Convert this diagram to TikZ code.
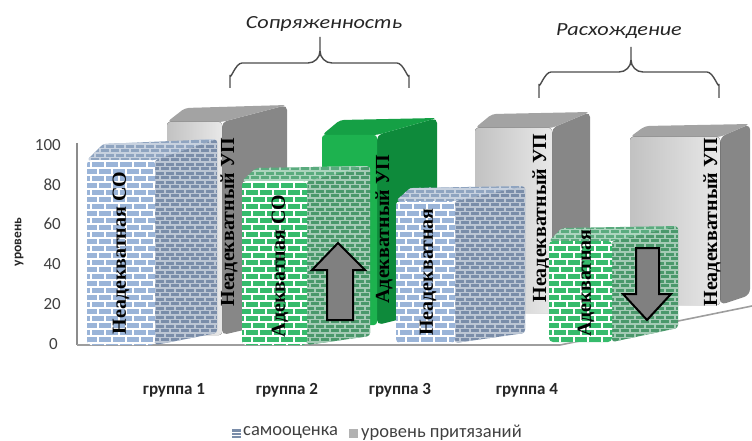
\documentclass[tikz,border=0pt]{standalone}
\usepackage{fontspec}
\setmainfont{Carlito}
\newfontfamily\serifb{Liberation Serif}
\usetikzlibrary{patterns}
\pgfdeclarepatternformonly{mybricks}{\pgfqpoint{-2pt}{-2pt}}{\pgfqpoint{16pt}{16pt}}{\pgfqpoint{14pt}{14pt}}{%
 \pgfsetlinewidth{2.6pt}%
 \pgfpathmoveto{\pgfqpoint{-1pt}{0pt}}\pgfpathlineto{\pgfqpoint{15pt}{0pt}}%
 \pgfpathmoveto{\pgfqpoint{-1pt}{7pt}}\pgfpathlineto{\pgfqpoint{15pt}{7pt}}%
 \pgfpathmoveto{\pgfqpoint{0pt}{0pt}}\pgfpathlineto{\pgfqpoint{0pt}{7pt}}%
 \pgfpathmoveto{\pgfqpoint{14pt}{0pt}}\pgfpathlineto{\pgfqpoint{14pt}{7pt}}%
 \pgfpathmoveto{\pgfqpoint{7pt}{7pt}}\pgfpathlineto{\pgfqpoint{7pt}{14pt}}%
 \pgfusepath{stroke}}
\pgfdeclarepatternformonly{smallbricks}{\pgfqpoint{-2pt}{-2pt}}{\pgfqpoint{12pt}{11pt}}{\pgfqpoint{10pt}{9pt}}{%
 \pgfsetlinewidth{1.5pt}%
 \pgfpathmoveto{\pgfqpoint{-1pt}{0pt}}\pgfpathlineto{\pgfqpoint{11pt}{0pt}}%
 \pgfpathmoveto{\pgfqpoint{-1pt}{4.5pt}}\pgfpathlineto{\pgfqpoint{11pt}{4.5pt}}%
 \pgfpathmoveto{\pgfqpoint{0pt}{0pt}}\pgfpathlineto{\pgfqpoint{0pt}{4.5pt}}%
 \pgfpathmoveto{\pgfqpoint{10pt}{0pt}}\pgfpathlineto{\pgfqpoint{10pt}{4.5pt}}%
 \pgfpathmoveto{\pgfqpoint{5pt}{4.5pt}}\pgfpathlineto{\pgfqpoint{5pt}{9pt}}%
 \pgfusepath{stroke}}
\definecolor{bF}{HTML}{9AB4D8}
\definecolor{bS}{HTML}{7A8DA9}
\definecolor{bT}{HTML}{8FA4C0}
\definecolor{gF}{HTML}{36BB6C}
\definecolor{gS}{HTML}{4A986B}
\definecolor{gT}{HTML}{5AAB7E}
\definecolor{sF}{HTML}{1DB24F}
\definecolor{sS}{HTML}{0E8A3B}
\definecolor{sT}{HTML}{15A045}
\begin{document}
\begin{tikzpicture}[x=1pt,y=-1pt,
  lbl/.style={rotate=90, font=\serifb\bfseries\fontsize{20}{20}\selectfont, inner sep=0pt},
  tick/.style={anchor=east, font=\fontsize{17}{17}\selectfont, text=black!75, inner sep=0pt},
  grp/.style={font=\bfseries\fontsize{17}{17}\selectfont, text=black!85, inner sep=0pt},
  leg/.style={anchor=west, font=\fontsize{18.5}{18.5}\selectfont, text=black!75, inner sep=0pt},
  ttl/.style={font=\itshape\fontsize{18.5}{18.5}\selectfont, text=black!85, inner sep=0pt},
  brace/.style={draw=black!70, line width=1.4pt},
  brickfront/.style={fill=#1, postaction={pattern=mybricks, pattern color=white}},
  brickside/.style={fill=#1, postaction={pattern=smallbricks, pattern color=white!50!#1}},
  gfront/.style={left color=black!24, right color=black!9},
  gside/.style={fill=black!47},
  gtop/.style={fill=black!36},
  arr/.style={fill=black!50, draw=black, line width=2pt, line join=miter},
  floor/.style={draw=black!38, line width=1.6pt}]
\useasboundingbox (0,0) rectangle (752,441);

% titles and braces
\node[ttl] (t-sopr) at (324,24) {\scalebox{1.2}[1]{Сопряженность}};
\node[ttl] (t-rash) at (619,31) {\scalebox{1.2}[1]{Расхождение}};
\draw[brace] (230,88) -- (230,75) to[out=-90,in=180] (242,63) -- (308,63) to[out=0,in=-90] (320,51) -- (320,37);
\draw[brace] (320,51) to[out=-90,in=180] (332,63) -- (397,63) to[out=0,in=-90] (409,75) -- (409,88);
\draw[brace] (539,98) -- (539,84) to[out=-90,in=180] (551,72) -- (619,72) to[out=0,in=-90] (631,60) -- (631,47);
\draw[brace] (631,60) to[out=-90,in=180] (643,72) -- (707,72) to[out=0,in=-90] (719,84) -- (719,98);

% axis
\draw[draw=black!45, line width=1.2pt] (77,143) -- (77,345);
\node[tick] (y100) at (61,145) {100};
\node[tick] (y80) at (61,185) {80};
\node[tick] (y60) at (61,224) {60};
\node[tick] (y40) at (61,264) {40};
\node[tick] (y20) at (61,304) {20};
\node[tick] (y0) at (58,344) {0};
\node[rotate=90, font=\bfseries\fontsize{13.5}{13.5}\selectfont, text=black!85, inner sep=0pt] (ylab) at (19,242) {уровень};

% back series (уровень притязаний)
% group 1 gray
\fill[gside, rounded corners=5pt] (222,122) -- (287,105) -- (287,320) -- (222,335) -- cycle;
\fill[gtop, rounded corners=4pt] (167,122) -- (185,108) -- (287,105) -- (222,122) -- cycle;
\fill[gfront, rounded corners=3pt] (167,122) rectangle (222,335);
\node[lbl] (l2) at (229,222) {Неадекватный УП};
% group 2 green
\fill[sS, rounded corners=5pt] (377,135) -- (437,118) -- (437,310) -- (377,325) -- cycle;
\fill[sT, rounded corners=4pt] (322,135) -- (340,120) -- (437,118) -- (377,135) -- cycle;
\fill[sF, rounded corners=3pt] (322,135) rectangle (377,325);
\node[lbl] (l4) at (384,229) {Адекватный УП};
% group 3 gray
\fill[gside, rounded corners=5pt] (552,128) -- (590,112) -- (590,300) -- (552,313) -- cycle;
\fill[gtop, rounded corners=4pt] (475,128) -- (492,114) -- (590,112) -- (552,128) -- cycle;
\fill[gfront, rounded corners=3pt] (475,128) rectangle (552,313);
\node[lbl] (l6) at (541,218) {Неадекватный УП};
% group 4 gray
\fill[gside, rounded corners=6pt] (720,137) -- (750,124) -- (750,295) -- (720,305) -- cycle;
\fill[gtop, rounded corners=4pt] (630,137) -- (645,126) -- (750,124) -- (720,137) -- cycle;
\fill[gfront, rounded corners=3pt] (630,137) rectangle (720,305);
\node[lbl] (l8) at (712,222) {Неадекватный УП};

% floor
\draw[floor] (77,345) -- (560,345) -- (752,306);

% front series (самооценка)
% group 1 blue
\path[brickside=bS, rounded corners=3pt] (155,160) -- (217,139) -- (217,333) -- (155,345) -- cycle;
\path[brickside=bT, rounded corners=3pt] (87,160) -- (103,144) -- (217,139) -- (155,160) -- cycle;
\path[brickfront=bF, rounded corners=4pt] (87,160) rectangle (155,345);
\node[lbl] (l1) at (121,253) {Неадекватная СО};
% group 2 green brick
\path[brickside=gS, rounded corners=3pt] (307,181) -- (370,166) -- (370,336) -- (307,345) -- cycle;
\path[brickside=gT, rounded corners=3pt] (242,181) -- (256,168) -- (370,166) -- (307,181) -- cycle;
\path[brickfront=gF, rounded corners=4pt] (242,181) rectangle (307,345);
\node[lbl] (l3) at (280,266) {Адекватная СО};
\draw[arr] (338,243) -- (365,270) -- (353,270) -- (353,320) -- (327,320) -- (327,270) -- (312,270) -- cycle;
% group 3 blue
\path[brickside=bS, rounded corners=3pt] (455,201) -- (525,186) -- (525,333) -- (455,343) -- cycle;
\path[brickside=bT, rounded corners=3pt] (396,201) -- (410,188) -- (525,186) -- (455,201) -- cycle;
\path[brickfront=bF, rounded corners=4pt] (396,201) rectangle (455,343);
\node[lbl] (l5) at (428,272) {Неадекватная};
% group 4 green brick
\path[brickside=gS, rounded corners=3pt] (612,241) -- (678,226) -- (678,328) -- (612,342) -- cycle;
\path[brickside=gT, rounded corners=3pt] (549,241) -- (562,228) -- (678,226) -- (612,241) -- cycle;
\path[brickfront=gF, rounded corners=4pt] (549,241) rectangle (612,342);
\node[lbl] (l7) at (586,283) {Адекватная};
\draw[arr] (636,248) -- (659,248) -- (659,294) -- (671,294) -- (647,320) -- (623,294) -- (636,294) -- cycle;

% group labels
\node[grp] (g1) at (174,390) {группа 1};
\node[grp] (g2) at (287,390) {группа 2};
\node[grp] (g3) at (400,390) {группа 3};
\node[grp] (g4) at (527,390) {группа 4};

% legend
\fill[bS] (232,429) rectangle (241,438);
\draw[white, line width=0.8pt] (232,432) -- (241,432) (232,435) -- (241,435);
\node[leg] (leg1) at (243,433) {самооценка};
\fill[black!30] (349,429) rectangle (358,438);
\node[leg] (leg2) at (361,433) {уровень притязаний};
\end{tikzpicture}
\end{document}
